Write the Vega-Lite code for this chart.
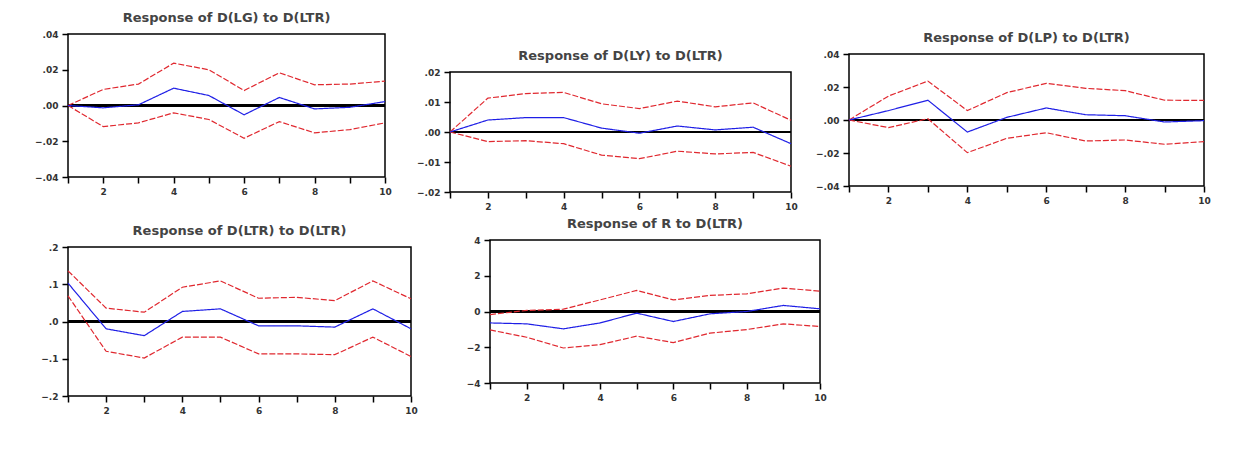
{
  "$schema": "https://vega.github.io/schema/vega-lite/v6.json",
  "background": "white",
  "padding": {"left": 33, "top": 10, "right": 5, "bottom": 0},
  "datasets": {
    "lg": [
      {"h": 1, "resp": 0, "up": 0, "lo": 0},
      {"h": 2, "resp": -0.0013, "up": 0.009, "lo": -0.0118},
      {"h": 3, "resp": 0.0004, "up": 0.012, "lo": -0.0097},
      {"h": 4, "resp": 0.0097, "up": 0.0237, "lo": -0.0041},
      {"h": 5, "resp": 0.0056, "up": 0.020, "lo": -0.0078},
      {"h": 6, "resp": -0.0052, "up": 0.0084, "lo": -0.0183},
      {"h": 7, "resp": 0.0045, "up": 0.0183, "lo": -0.009},
      {"h": 8, "resp": -0.0019, "up": 0.0116, "lo": -0.0153},
      {"h": 9, "resp": -0.001, "up": 0.012, "lo": -0.0135},
      {"h": 10, "resp": 0.0022, "up": 0.0136, "lo": -0.0097}
    ],
    "ly": [
      {"h": 1, "resp": 0, "up": 0, "lo": 0},
      {"h": 2, "resp": 0.004, "up": 0.0113, "lo": -0.0032},
      {"h": 3, "resp": 0.0048, "up": 0.0128, "lo": -0.0029},
      {"h": 4, "resp": 0.0048, "up": 0.0132, "lo": -0.0039},
      {"h": 5, "resp": 0.0013, "up": 0.0094, "lo": -0.0077},
      {"h": 6, "resp": -0.0004, "up": 0.0078, "lo": -0.0089},
      {"h": 7, "resp": 0.002, "up": 0.0103, "lo": -0.0064},
      {"h": 8, "resp": 0.0007, "up": 0.0084, "lo": -0.0073},
      {"h": 9, "resp": 0.0016, "up": 0.0097, "lo": -0.0068},
      {"h": 10, "resp": -0.0039, "up": 0.0039, "lo": -0.0114}
    ],
    "lp": [
      {"h": 1, "resp": 0, "up": 0, "lo": 0},
      {"h": 2, "resp": 0.0057, "up": 0.0145, "lo": -0.0046},
      {"h": 3, "resp": 0.012, "up": 0.0236, "lo": 0.0008},
      {"h": 4, "resp": -0.0073, "up": 0.0057, "lo": -0.0198},
      {"h": 5, "resp": 0.0016, "up": 0.0166, "lo": -0.0111},
      {"h": 6, "resp": 0.0073, "up": 0.0222, "lo": -0.0077},
      {"h": 7, "resp": 0.0032, "up": 0.0192, "lo": -0.0127},
      {"h": 8, "resp": 0.0026, "up": 0.0178, "lo": -0.0121},
      {"h": 9, "resp": -0.0012, "up": 0.012, "lo": -0.0147},
      {"h": 10, "resp": -0.0004, "up": 0.0119, "lo": -0.0131}
    ],
    "ltr": [
      {"h": 1, "resp": 0.103, "up": 0.136, "lo": 0.069},
      {"h": 2, "resp": -0.0196, "up": 0.036, "lo": -0.080},
      {"h": 3, "resp": -0.038, "up": 0.025, "lo": -0.098},
      {"h": 4, "resp": 0.027, "up": 0.092, "lo": -0.042},
      {"h": 5, "resp": 0.034, "up": 0.109, "lo": -0.042},
      {"h": 6, "resp": -0.0116, "up": 0.0625, "lo": -0.087},
      {"h": 7, "resp": -0.0116, "up": 0.065, "lo": -0.087},
      {"h": 8, "resp": -0.015, "up": 0.056, "lo": -0.089},
      {"h": 9, "resp": 0.034, "up": 0.109, "lo": -0.042},
      {"h": 10, "resp": -0.0196, "up": 0.061, "lo": -0.094}
    ],
    "r": [
      {"h": 1, "resp": -0.64, "up": -0.17, "lo": -1.03},
      {"h": 2, "resp": -0.69, "up": 0.06, "lo": -1.44},
      {"h": 3, "resp": -0.97, "up": 0.13, "lo": -2.04},
      {"h": 4, "resp": -0.64, "up": 0.65, "lo": -1.85},
      {"h": 5, "resp": -0.09, "up": 1.18, "lo": -1.38},
      {"h": 6, "resp": -0.56, "up": 0.65, "lo": -1.74},
      {"h": 7, "resp": -0.13, "up": 0.9, "lo": -1.21},
      {"h": 8, "resp": 0, "up": 0.99, "lo": -1.01},
      {"h": 9, "resp": 0.34, "up": 1.31, "lo": -0.69},
      {"h": 10, "resp": 0.15, "up": 1.14, "lo": -0.84}
    ]
  },
  "vconcat": [
    {
      "spacing": 22,
      "hconcat": [
        {
          "spacing": 0.01,
          "vconcat": [
            {"width": 1, "height": 1, "data": {"values": []}, "mark": "point", "view": {"stroke": null}},
            {
              "width": 317, "height": 143,
              "title": "Response of D(LG) to D(LTR)",
              "data": {"name": "lg"},
              "transform": [{"fold": ["up", "lo", "resp"], "as": ["s", "v"]}],
              "layer": [
                {"mark": {"type": "rule", "color": "black", "strokeWidth": 1.3}, "encoding": {"y": {"datum": 0, "type": "quantitative", "scale": {"domain": [-0.04, 0.04], "nice": false}, "axis": {"values": [-0.04, -0.02, 0, 0.02, 0.04], "labelExpr": "replace(format(datum.value, '.2f'), '0.', '.')", "title": null}}}},
                {"mark": {"type": "line"}, "encoding": {
                  "x": {"field": "h", "type": "quantitative", "scale": {"domain": [1, 10], "nice": false}, "axis": {"values": [1,2,3,4,5,6,7,8,9,10], "labelExpr": "datum.value % 2 == 0 ? datum.label : ''", "title": null}},
                  "y": {"field": "v", "type": "quantitative", "scale": {"domain": [-0.04, 0.04], "nice": false}, "axis": {"values": [-0.04, -0.02, 0, 0.02, 0.04], "labelExpr": "replace(format(datum.value, '.2f'), '0.', '.')", "title": null}},
                  "color": {"field": "s", "type": "nominal", "scale": {"domain": ["up", "lo", "resp"], "range": ["#e0282f", "#e0282f", "#1f1fe6"]}, "legend": null},
                  "strokeDash": {"field": "s", "type": "nominal", "scale": {"domain": ["up", "lo", "resp"], "range": [[6, 2], [6, 2], [1, 0]]}, "legend": null},
                  "strokeWidth": {"field": "s", "type": "nominal", "scale": {"domain": ["up", "lo", "resp"], "range": [1.2, 1.2, 1.5]}, "legend": null}
                }}
              ]
            }
          ]
        },
        {
          "spacing": 15,
          "hconcat": [
            {
              "spacing": 0.01,
              "vconcat": [
                {"width": 1, "height": 39, "data": {"values": []}, "mark": "point", "view": {"stroke": null}},
                {
                  "width": 341, "height": 120,
                  "title": "Response of D(LY) to D(LTR)",
                  "data": {"name": "ly"},
                  "transform": [{"fold": ["up", "lo", "resp"], "as": ["s", "v"]}],
                  "layer": [
                    {"mark": {"type": "rule", "color": "black", "strokeWidth": 1.3}, "encoding": {"y": {"datum": 0, "type": "quantitative", "scale": {"domain": [-0.02, 0.02], "nice": false}, "axis": {"values": [-0.02, -0.01, 0, 0.01, 0.02], "labelExpr": "replace(format(datum.value, '.2f'), '0.', '.')", "title": null}}}},
                    {"mark": {"type": "line"}, "encoding": {
                      "x": {"field": "h", "type": "quantitative", "scale": {"domain": [1, 10], "nice": false}, "axis": {"values": [1,2,3,4,5,6,7,8,9,10], "labelExpr": "datum.value % 2 == 0 ? datum.label : ''", "title": null}},
                      "y": {"field": "v", "type": "quantitative", "scale": {"domain": [-0.02, 0.02], "nice": false}, "axis": {"values": [-0.02, -0.01, 0, 0.01, 0.02], "labelExpr": "replace(format(datum.value, '.2f'), '0.', '.')", "title": null}},
                      "color": {"field": "s", "type": "nominal", "scale": {"domain": ["up", "lo", "resp"], "range": ["#e0282f", "#e0282f", "#1f1fe6"]}, "legend": null},
                      "strokeDash": {"field": "s", "type": "nominal", "scale": {"domain": ["up", "lo", "resp"], "range": [[6, 2], [6, 2], [1, 0]]}, "legend": null},
                      "strokeWidth": {"field": "s", "type": "nominal", "scale": {"domain": ["up", "lo", "resp"], "range": [1.2, 1.2, 1.5]}, "legend": null}
                    }}
                  ]
                }
              ]
            },
            {
              "spacing": 0.01,
              "vconcat": [
                {"width": 1, "height": 21, "data": {"values": []}, "mark": "point", "view": {"stroke": null}},
                {
                  "width": 355, "height": 132,
                  "title": "Response of D(LP) to D(LTR)",
                  "data": {"name": "lp"},
                  "transform": [{"fold": ["up", "lo", "resp"], "as": ["s", "v"]}],
                  "layer": [
                    {"mark": {"type": "rule", "color": "black", "strokeWidth": 1.3}, "encoding": {"y": {"datum": 0, "type": "quantitative", "scale": {"domain": [-0.04, 0.04], "nice": false}, "axis": {"values": [-0.04, -0.02, 0, 0.02, 0.04], "labelExpr": "replace(format(datum.value, '.2f'), '0.', '.')", "title": null}}}},
                    {"mark": {"type": "line"}, "encoding": {
                      "x": {"field": "h", "type": "quantitative", "scale": {"domain": [1, 10], "nice": false}, "axis": {"values": [1,2,3,4,5,6,7,8,9,10], "labelExpr": "datum.value % 2 == 0 ? datum.label : ''", "title": null}},
                      "y": {"field": "v", "type": "quantitative", "scale": {"domain": [-0.04, 0.04], "nice": false}, "axis": {"values": [-0.04, -0.02, 0, 0.02, 0.04], "labelExpr": "replace(format(datum.value, '.2f'), '0.', '.')", "title": null}},
                      "color": {"field": "s", "type": "nominal", "scale": {"domain": ["up", "lo", "resp"], "range": ["#e0282f", "#e0282f", "#1f1fe6"]}, "legend": null},
                      "strokeDash": {"field": "s", "type": "nominal", "scale": {"domain": ["up", "lo", "resp"], "range": [[6, 2], [6, 2], [1, 0]]}, "legend": null},
                      "strokeWidth": {"field": "s", "type": "nominal", "scale": {"domain": ["up", "lo", "resp"], "range": [1.2, 1.2, 1.5]}, "legend": null}
                    }}
                  ]
                }
              ]
            }
          ]
        }
      ]
    },
    {
      "spacing": 46,
      "hconcat": [
        {
          "spacing": 0.01,
          "vconcat": [
            {"width": 1, "height": 8, "data": {"values": []}, "mark": "point", "view": {"stroke": null}},
            {
              "width": 343, "height": 149,
              "title": "Response of D(LTR) to D(LTR)",
              "data": {"name": "ltr"},
              "transform": [{"fold": ["up", "lo", "resp"], "as": ["s", "v"]}],
              "layer": [
                {"mark": {"type": "rule", "color": "black", "strokeWidth": 1.3}, "encoding": {"y": {"datum": 0, "type": "quantitative", "scale": {"domain": [-0.2, 0.2], "nice": false}, "axis": {"values": [-0.2, -0.1, 0, 0.1, 0.2], "labelExpr": "replace(format(datum.value, '.1f'), '0.', '.')", "title": null}}}},
                {"mark": {"type": "line"}, "encoding": {
                  "x": {"field": "h", "type": "quantitative", "scale": {"domain": [1, 10], "nice": false}, "axis": {"values": [1,2,3,4,5,6,7,8,9,10], "labelExpr": "datum.value % 2 == 0 ? datum.label : ''", "title": null}},
                  "y": {"field": "v", "type": "quantitative", "scale": {"domain": [-0.2, 0.2], "nice": false}, "axis": {"values": [-0.2, -0.1, 0, 0.1, 0.2], "labelExpr": "replace(format(datum.value, '.1f'), '0.', '.')", "title": null}},
                  "color": {"field": "s", "type": "nominal", "scale": {"domain": ["up", "lo", "resp"], "range": ["#e0282f", "#e0282f", "#1f1fe6"]}, "legend": null},
                  "strokeDash": {"field": "s", "type": "nominal", "scale": {"domain": ["up", "lo", "resp"], "range": [[6, 2], [6, 2], [1, 0]]}, "legend": null},
                  "strokeWidth": {"field": "s", "type": "nominal", "scale": {"domain": ["up", "lo", "resp"], "range": [1.2, 1.2, 1.5]}, "legend": null}
                }}
              ]
            }
          ]
        },
        {
          "spacing": 0.01,
          "vconcat": [
            {"width": 1, "height": 1, "data": {"values": []}, "mark": "point", "view": {"stroke": null}},
            {
              "width": 330, "height": 143,
              "title": "Response of R to D(LTR)",
              "data": {"name": "r"},
              "transform": [{"fold": ["up", "lo", "resp"], "as": ["s", "v"]}],
              "layer": [
                {"mark": {"type": "rule", "color": "black", "strokeWidth": 1.3}, "encoding": {"y": {"datum": 0, "type": "quantitative", "scale": {"domain": [-4, 4], "nice": false}, "axis": {"values": [-4, -2, 0, 2, 4], "format": "d", "title": null}}}},
                {"mark": {"type": "line"}, "encoding": {
                  "x": {"field": "h", "type": "quantitative", "scale": {"domain": [1, 10], "nice": false}, "axis": {"values": [1,2,3,4,5,6,7,8,9,10], "labelExpr": "datum.value % 2 == 0 ? datum.label : ''", "title": null}},
                  "y": {"field": "v", "type": "quantitative", "scale": {"domain": [-4, 4], "nice": false}, "axis": {"values": [-4, -2, 0, 2, 4], "format": "d", "title": null}},
                  "color": {"field": "s", "type": "nominal", "scale": {"domain": ["up", "lo", "resp"], "range": ["#e0282f", "#e0282f", "#1f1fe6"]}, "legend": null},
                  "strokeDash": {"field": "s", "type": "nominal", "scale": {"domain": ["up", "lo", "resp"], "range": [[6, 2], [6, 2], [1, 0]]}, "legend": null},
                  "strokeWidth": {"field": "s", "type": "nominal", "scale": {"domain": ["up", "lo", "resp"], "range": [1.2, 1.2, 1.5]}, "legend": null}
                }}
              ]
            }
          ]
        }
      ]
    }
  ],
  "spacing": 4,
  "config": {
    "view": {"stroke": "black", "strokeWidth": 1.5},
    "axis": {"grid": false, "domain": false, "tickColor": "black", "tickWidth": 1.5, "tickSize": 6, "labelPadding": 4, "labelFont": "DejaVu Sans", "labelFontSize": 9, "labelFontWeight": "bold", "labelColor": "#333", "labelFlush": false, "labelOverlap": false},
    "title": {"font": "DejaVu Sans", "fontSize": 13, "fontWeight": "bold", "color": "#444", "offset": 5}
  }
}
